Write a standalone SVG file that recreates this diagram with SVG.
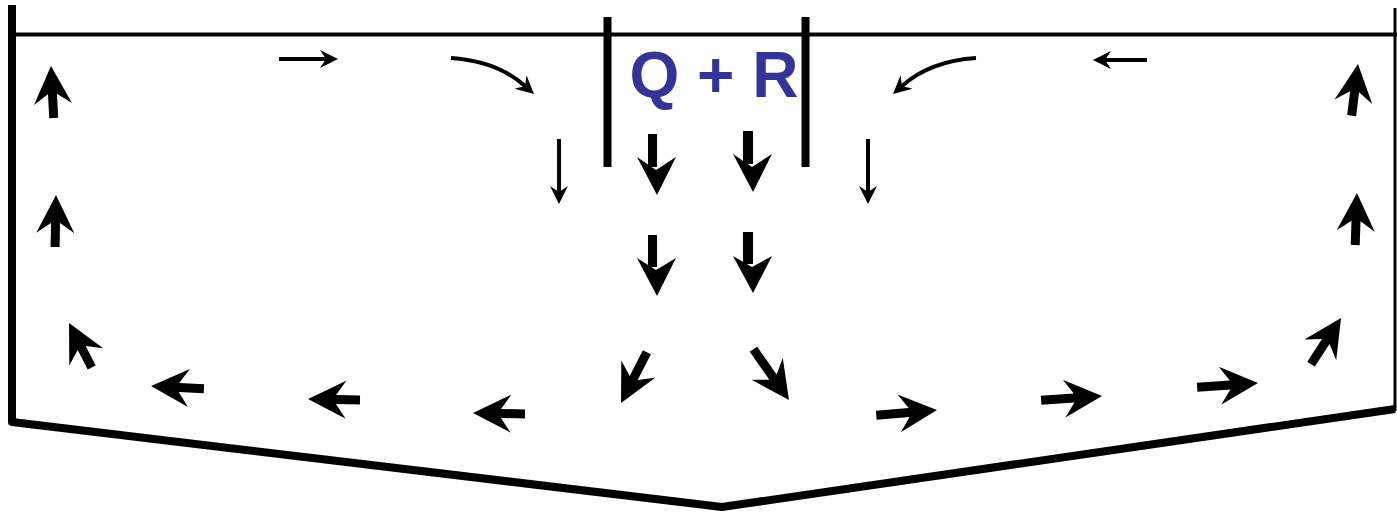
<svg xmlns="http://www.w3.org/2000/svg" width="1397" height="513" viewBox="0 0 1397 513">
  <style>
    .wall{fill:none;stroke:#000;stroke-linejoin:round}
    .big{fill:#000}
    .thin{fill:none;stroke:#000;stroke-width:4;marker-end:url(#head)}
    .label{font-family:"Liberation Sans",Arial,sans-serif;font-weight:bold;font-size:64px;fill:#333399}
  </style>
  <defs>
    <marker id="head" viewBox="-18 -10 18 20" refX="-12" refY="0" markerWidth="18" markerHeight="20" markerUnits="userSpaceOnUse" orient="auto" overflow="visible">
      <path d="M0,0 L-18,-9 L-12,0 L-18,9 Z" fill="#000"/>
    </marker>
  </defs>
  <rect width="1397" height="513" fill="#fff"/>

  <g id="tank">
    <path class="wall" d="M12,5 L12,422 L722,507 L1395,409" stroke-width="8"/>
    <path class="wall" d="M1395,8 L1395,411" stroke-width="3"/>
    <path class="wall" d="M14,34.5 L1397,34.5" stroke-width="4"/>
    <path class="wall" d="M607.5,17 L607.5,167 M805.5,17 L805.5,167" stroke-width="8"/>
  </g>

  <g id="inlet-label">
    <text class="label" x="714" y="97" text-anchor="middle">Q + R</text>
  </g>

  <g id="flow-arrows">
    <path class="thin" d="M279,59 L326,59"/>
    <path class="thin" d="M1147,60 L1105,60"/>
    <path class="thin" d="M451,58 Q497,61 525,86"/>
    <path class="thin" d="M976,58 Q930,61 902,86"/>
    <path class="thin" d="M559,139 L559,192"/>
    <path class="thin" d="M868,139 L868,192"/>

    <path class="big" d="M648,134 H657 V167 H648 Z M657,195 L637,157 L656,170 L676,157 Z"/>
    <path class="big" d="M743,131 H753 V164 H743 Z M753,192 L733,154 L752,167 L772,154 Z"/>
    <path class="big" d="M648,235 H657 V267 H648 Z M657,296 L637,258 L656,270 L676,258 Z"/>
    <path class="big" d="M743,232 H753 V264 H743 Z M753,293 L733,256 L752,267 L772,256 Z"/>

    <path class="big" transform="translate(621,403) rotate(117)" d="M0,0 L-38,-19 L-28,-4.5 L-57,-4.5 L-57,4.5 L-28,4.5 L-38,19 Z"/>
    <path class="big" transform="translate(789,400) rotate(55)" d="M0,0 L-38,-19 L-28,-4.5 L-62,-4.5 L-62,4.5 L-28,4.5 L-38,19 Z"/>

    <path class="big" transform="translate(473,413) rotate(181)" d="M0,0 L-38,-19 L-28,-4.5 L-52,-4.5 L-52,4.5 L-28,4.5 L-38,19 Z"/>
    <path class="big" transform="translate(308,399) rotate(181)" d="M0,0 L-38,-19 L-28,-4.5 L-52,-4.5 L-52,4.5 L-28,4.5 L-38,19 Z"/>
    <path class="big" transform="translate(151,386) rotate(183)" d="M0,0 L-38,-19 L-28,-4.5 L-53,-4.5 L-53,4.5 L-28,4.5 L-38,19 Z"/>
    <path class="big" transform="translate(69,323) rotate(-117)" d="M0,0 L-38,-19 L-28,-4.5 L-50,-4.5 L-50,4.5 L-28,4.5 L-38,19 Z"/>
    <path class="big" transform="translate(56,195) rotate(-89)" d="M0,0 L-38,-19 L-28,-4.5 L-52,-4.5 L-52,4.5 L-28,4.5 L-38,19 Z"/>
    <path class="big" transform="translate(51,66) rotate(-93)" d="M0,0 L-38,-19 L-28,-4.5 L-52,-4.5 L-52,4.5 L-28,4.5 L-38,19 Z"/>

    <path class="big" transform="translate(937,410) rotate(-5)" d="M0,0 L-38,-19 L-28,-4.5 L-61,-4.5 L-61,4.5 L-28,4.5 L-38,19 Z"/>
    <path class="big" transform="translate(1102,396) rotate(-4)" d="M0,0 L-38,-19 L-28,-4.5 L-61,-4.5 L-61,4.5 L-28,4.5 L-38,19 Z"/>
    <path class="big" transform="translate(1258,383) rotate(-4)" d="M0,0 L-38,-19 L-28,-4.5 L-61,-4.5 L-61,4.5 L-28,4.5 L-38,19 Z"/>
    <path class="big" transform="translate(1341,318) rotate(-57)" d="M0,0 L-38,-19 L-28,-4.5 L-55,-4.5 L-55,4.5 L-28,4.5 L-38,19 Z"/>
    <path class="big" transform="translate(1357,193) rotate(-88)" d="M0,0 L-38,-19 L-28,-4.5 L-52,-4.5 L-52,4.5 L-28,4.5 L-38,19 Z"/>
    <path class="big" transform="translate(1358,64) rotate(-83)" d="M0,0 L-38,-19 L-28,-4.5 L-52,-4.5 L-52,4.5 L-28,4.5 L-38,19 Z"/>
  </g>
</svg>
